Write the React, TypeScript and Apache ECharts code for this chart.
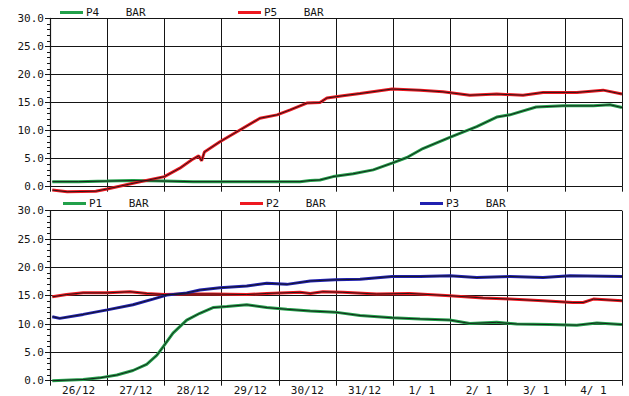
import React, { useEffect, useRef } from "react";
import * as echarts from "echarts";

const dayLabels = ["26/12", "27/12", "28/12", "29/12", "30/12", "31/12", "1/ 1", "2/ 1", "3/ 1", "4/ 1"];

// top panel
const p4T = [0.04, 0.5, 1.0, 1.45, 2.0, 2.5, 3.0, 3.5, 4.0, 4.37, 4.55, 4.72, 4.95, 5.3, 5.65, 5.98, 6.24, 6.52, 6.99, 7.46, 7.81, 8.04, 8.5, 8.97, 9.5, 9.79, 10.0];
const p4V = [0.9, 0.9, 1.0, 1.1, 1.0, 0.9, 0.9, 0.9, 0.9, 0.9, 1.1, 1.2, 1.8, 2.3, 3.0, 4.2, 5.2, 6.8, 8.8, 10.7, 12.4, 12.8, 14.2, 14.4, 14.4, 14.6, 14.1];
const p5T = [0.04, 0.3, 0.8, 1.0, 1.45, 2.0, 2.27, 2.48, 2.6, 2.65, 2.7, 2.97, 3.32, 3.67, 3.97, 4.2, 4.49, 4.72, 4.84, 5.12, 5.42, 5.98, 6.47, 6.87, 7.34, 7.81, 8.27, 8.62, 9.21, 9.67, 10.0];
const p5V = [-0.6, -0.9, -0.8, -0.4, 0.6, 1.8, 3.3, 4.8, 5.5, 4.6, 6.2, 8.0, 10.1, 12.2, 12.8, 13.7, 14.9, 15.0, 15.8, 16.2, 16.6, 17.4, 17.2, 16.9, 16.3, 16.5, 16.3, 16.8, 16.8, 17.2, 16.5];

// bottom panel
const p1T = [0.04, 0.58, 0.87, 1.17, 1.45, 1.69, 1.87, 1.98, 2.15, 2.39, 2.62, 2.85, 3.09, 3.44, 3.79, 4.14, 4.55, 4.98, 5.42, 5.98, 6.47, 6.99, 7.34, 7.81, 8.16, 8.74, 9.21, 9.56, 10.0];
const p1V = [0.0, 0.2, 0.5, 1.0, 1.8, 2.9, 4.5, 6.0, 8.4, 10.7, 11.9, 12.9, 13.1, 13.4, 12.9, 12.6, 12.3, 12.1, 11.5, 11.1, 10.9, 10.7, 10.1, 10.3, 10.0, 9.9, 9.8, 10.2, 9.9];
const p2T = [0.04, 0.29, 0.58, 1.0, 1.4, 1.69, 2.0, 2.39, 2.85, 3.44, 3.79, 4.37, 4.55, 4.77, 5.12, 5.71, 6.29, 6.99, 7.57, 8.04, 8.62, 9.14, 9.32, 9.5, 10.0];
const p2V = [14.8, 15.2, 15.5, 15.5, 15.7, 15.4, 15.2, 15.3, 15.3, 15.2, 15.4, 15.6, 15.4, 15.7, 15.6, 15.3, 15.4, 15.0, 14.6, 14.4, 14.1, 13.8, 13.8, 14.4, 14.1];
const p3T = [0.04, 0.17, 0.58, 1.0, 1.45, 1.8, 2.04, 2.39, 2.62, 2.97, 3.44, 3.79, 4.14, 4.55, 4.98, 5.42, 5.98, 6.47, 6.99, 7.46, 8.04, 8.62, 9.09, 10.0];
const p3V = [11.3, 11.0, 11.7, 12.5, 13.4, 14.4, 15.1, 15.5, 16.0, 16.4, 16.7, 17.2, 17.0, 17.6, 17.8, 17.9, 18.4, 18.4, 18.5, 18.2, 18.4, 18.2, 18.5, 18.4];

const GREEN = "#22a04a";
const RED = "#ee1820";
const BLUE = "#2020b0";
const INK = "#151515";
const FONT = "DejaVu Sans Mono";

const zip = (t: number[], v: number[]) => t.map((x, i) => [x, v[i]]);

function pair(name: string, color: string, t: number[], v: number[], axis: number) {
  const data = zip(t, v);
  return [
    {
      name,
      type: "line",
      xAxisIndex: axis * 2 + 1,
      yAxisIndex: axis,
      data,
      showSymbol: false,
      clip: false,
      lineStyle: { color, width: 3 },
      itemStyle: { color },
      z: 3,
    },
    {
      name: name + " trace",
      type: "line",
      xAxisIndex: axis * 2 + 1,
      yAxisIndex: axis,
      data,
      showSymbol: false,
      clip: false,
      lineStyle: { color: INK, width: 0.9 },
      itemStyle: { color: INK },
      z: 4,
    },
  ];
}

function legend(name: string, left: number, top: number) {
  return {
    data: [name],
    left,
    top,
    padding: 0,
    icon: "rect",
    itemWidth: 23,
    itemHeight: 3,
    itemGap: 0,
    selectedMode: false,
    formatter: (n: string) => n + "    BAR",
    textStyle: { fontFamily: FONT, fontSize: 11, color: INK, padding: [0, 0, 0, -2] },
  };
}

export default function App() {
  const ref = useRef<HTMLDivElement>(null);
  useEffect(() => {
    if (!ref.current) return;
    const chart = echarts.init(ref.current, null, { renderer: "svg" });
    const grids = [
      { left: 50, right: 7, top: 18.3, height: 168.4 },
      { left: 50, right: 7, top: 210.7, height: 170 },
    ];
    const xAxes: any[] = [];
    const yAxes: any[] = [];
    grids.forEach((_, gi) => {
      xAxes.push({
        type: "category",
        gridIndex: gi,
        data: dayLabels,
        boundaryGap: true,
        axisLine: { show: true, lineStyle: { color: INK, width: 1.2 } },
        axisTick: { show: true, inside: false, length: 5, lineStyle: { color: INK } },
        splitLine: { show: true, lineStyle: { color: INK, width: 1 } },
        axisLabel: {
          show: gi === 1,
          fontFamily: FONT,
          fontSize: 11,
          color: INK,
          margin: 4,
        },
      });
      xAxes.push({
        type: "value",
        gridIndex: gi,
        min: 0,
        max: 10,
        show: false,
      });
      yAxes.push({
        type: "value",
        gridIndex: gi,
        min: 0,
        max: 30,
        interval: 5,
        axisLine: { show: true, lineStyle: { color: INK, width: 1.2 } },
        axisTick: { show: true, length: 5, lineStyle: { color: INK } },
        minorTick: { show: true, splitNumber: 5, length: 3, lineStyle: { color: INK } },
        splitLine: { show: true, lineStyle: { color: INK, width: 1 } },
        axisLabel: {
          fontFamily: FONT,
          fontSize: 11,
          color: INK,
          margin: 6,
          formatter: (v: number) => v.toFixed(1),
        },
      });
    });
    chart.setOption({
      animation: false,
      backgroundColor: "#ffffff",
      grid: grids,
      xAxis: xAxes,
      yAxis: yAxes,
      legend: [
        legend("P4", 60, 7),
        legend("P5", 238, 7),
        legend("P1", 63, 198),
        legend("P2", 240, 198),
        legend("P3", 420, 198),
      ],
      series: [
        ...pair("P4", GREEN, p4T, p4V, 0),
        ...pair("P5", RED, p5T, p5V, 0),
        ...pair("P1", GREEN, p1T, p1V, 1),
        ...pair("P2", RED, p2T, p2V, 1),
        ...pair("P3", BLUE, p3T, p3V, 1),
      ],
    });
    return () => chart.dispose();
  }, []);
  return (
    <div
      ref={ref}
      style={{ position: "fixed", left: 0, top: 0, width: 629, height: 396, background: "#fff" }}
    />
  );
}
